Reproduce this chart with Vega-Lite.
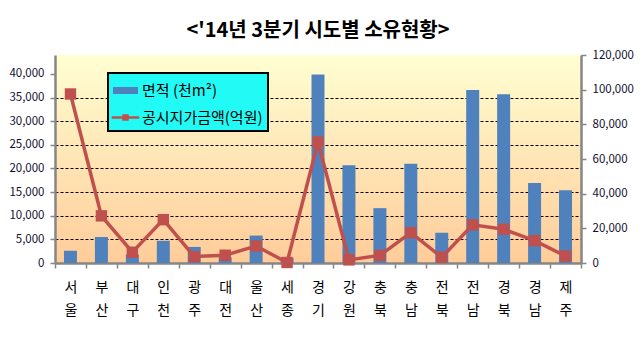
{
  "$schema": "https://vega.github.io/schema/vega-lite/v6.json",
  "width": 526,
  "height": 208,
  "autosize": {"type": "none"},
  "padding": {"left": 55, "top": 55, "right": 62, "bottom": 90},
  "background": "white",
  "title": {
    "text": "<'14년 3분기 시도별 소유현황>",
    "font": "Noto Sans CJK KR",
    "fontSize": 20,
    "fontWeight": "bold",
    "color": "black",
    "anchor": "middle",
    "offset": 8
  },
  "config": {
    "font": "Noto Sans CJK KR",
    "view": {
      "stroke": null,
      "fill": {
        "gradient": "linear",
        "x1": 0, "y1": 0, "x2": 0, "y2": 1,
        "stops": [
          {"offset": 0, "color": "#FFFFD2"},
          {"offset": 1, "color": "#FFCC99"}
        ]
      }
    }
  },
  "data": {
    "values": [
      {"region": "서울", "area": 2600, "price": 97500},
      {"region": "부산", "area": 5500, "price": 27200},
      {"region": "대구", "area": 1800, "price": 6200},
      {"region": "인천", "area": 4700, "price": 25000},
      {"region": "광주", "area": 3400, "price": 3700},
      {"region": "대전", "area": 1200, "price": 4500},
      {"region": "울산", "area": 5800, "price": 9800},
      {"region": "세종", "area": 1100, "price": 300},
      {"region": "경기", "area": 39900, "price": 69800},
      {"region": "강원", "area": 20700, "price": 1800},
      {"region": "충북", "area": 11600, "price": 4400},
      {"region": "충남", "area": 21000, "price": 17500},
      {"region": "전북", "area": 6400, "price": 3300},
      {"region": "전남", "area": 36600, "price": 22000},
      {"region": "경북", "area": 35700, "price": 19500},
      {"region": "경남", "area": 16900, "price": 12900},
      {"region": "제주", "area": 15400, "price": 4000}
    ]
  },
  "encoding": {
    "x": {
      "field": "region",
      "type": "nominal",
      "sort": null,
      "scale": {"paddingInner": 0, "paddingOuter": 0},
      "axis": {
        "title": null,
        "labelAngle": 0,
        "labelExpr": "[substring(datum.label,0,1), substring(datum.label,1,2)]",
        "labelFont": "Noto Sans CJK KR",
        "labelFontSize": 14,
        "labelColor": "black",
        "labelLineHeight": 23,
        "labelBaseline": "top",
        "labelPadding": 12,
        "tickBand": "extent",
        "tickColor": "#868686",
        "tickSize": 5,
        "tickWidth": 1.5,
        "domainColor": "#868686",
        "domainWidth": 2.5,
        "grid": false
      }
    }
  },
  "layer": [
    {
      "mark": {"type": "bar", "width": {"band": 0.42}},
      "encoding": {
        "y": {
          "field": "area",
          "type": "quantitative",
          "scale": {"domain": [0, 44000], "nice": false},
          "axis": {
            "title": null,
            "orient": "left",
            "values": [0, 5000, 10000, 15000, 20000, 25000, 30000, 35000, 40000],
            "format": ",d",
            "labelFont": "Noto Sans CJK KR",
            "labelFontSize": 11.5,
            "labelColor": "#101030",
            "labelPadding": 6,
            "tickSize": 5,
            "tickColor": "#868686",
            "tickWidth": 1.5,
            "domainColor": "#868686",
            "domainWidth": 2.5,
            "grid": true,
            "gridColor": "black",
            "gridDash": [3, 2],
            "gridWidth": 1,
            "gridOpacity": {"condition": {"test": "datum.value == 0 || datum.value == 40000", "value": 0}, "value": 1}
          }
        },
        "color": {
          "datum": "면적 (천m²)",
          "type": "nominal",
          "scale": {"domain": ["면적 (천m²)", "공시지가금액(억원)"], "range": ["#4F81BD", "#C0504D"]},
          "legend": {
            "title": null,
            "orient": "none",
            "legendX": 53,
            "legendY": 18,
            "fillColor": "#22FAF5",
            "strokeColor": "black",
            "padding": 5,
            "symbolSize": 625,
            "labelOffset": 4,
            "rowPadding": 6,
            "labelFont": "Noto Sans CJK KR",
            "labelFontSize": 15,
            "labelColor": "black",
            "labelLimit": 300,
            "encode": {
              "legend": {"update": {"strokeWidth": {"value": 2}}},
              "symbols": {
                "update": {
                  "shape": {"signal": "datum.value == '면적 (천m²)' ? 'M-1,-0.28H1V0.28H-1Z' : 'M-1.1,-0.1H1.1V0.1H-1.1Z M-0.26,-0.26H0.26V0.26H-0.26Z'"},
                  "fill": {"signal": "datum.value == '면적 (천m²)' ? '#4F81BD' : '#C0504D'"},
                  "stroke": {"value": "transparent"},
                  "strokeWidth": {"value": 0},
                  "opacity": {"value": 1},
                  "fillOpacity": {"value": 1}
                }
              }
            }
          }
        }
      }
    },
    {
      "mark": {
        "type": "line",
        "strokeWidth": 3.5,
        "point": {"shape": "square", "size": 130, "filled": true, "opacity": 1}
      },
      "encoding": {
        "y": {
          "field": "price",
          "type": "quantitative",
          "scale": {"domain": [0, 120000], "nice": false},
          "axis": {
            "title": null,
            "orient": "right",
            "values": [0, 20000, 40000, 60000, 80000, 100000, 120000],
            "format": ",d",
            "labelFont": "Noto Sans CJK KR",
            "labelFontSize": 11.5,
            "labelColor": "#101030",
            "labelPadding": 6,
            "tickSize": 5,
            "tickColor": "#868686",
            "tickWidth": 1.5,
            "domainColor": "#868686",
            "domainWidth": 2.5,
            "grid": false
          }
        },
        "color": {"datum": "공시지가금액(억원)", "type": "nominal"}
      }
    }
  ],
  "resolve": {"scale": {"y": "independent"}}
}
